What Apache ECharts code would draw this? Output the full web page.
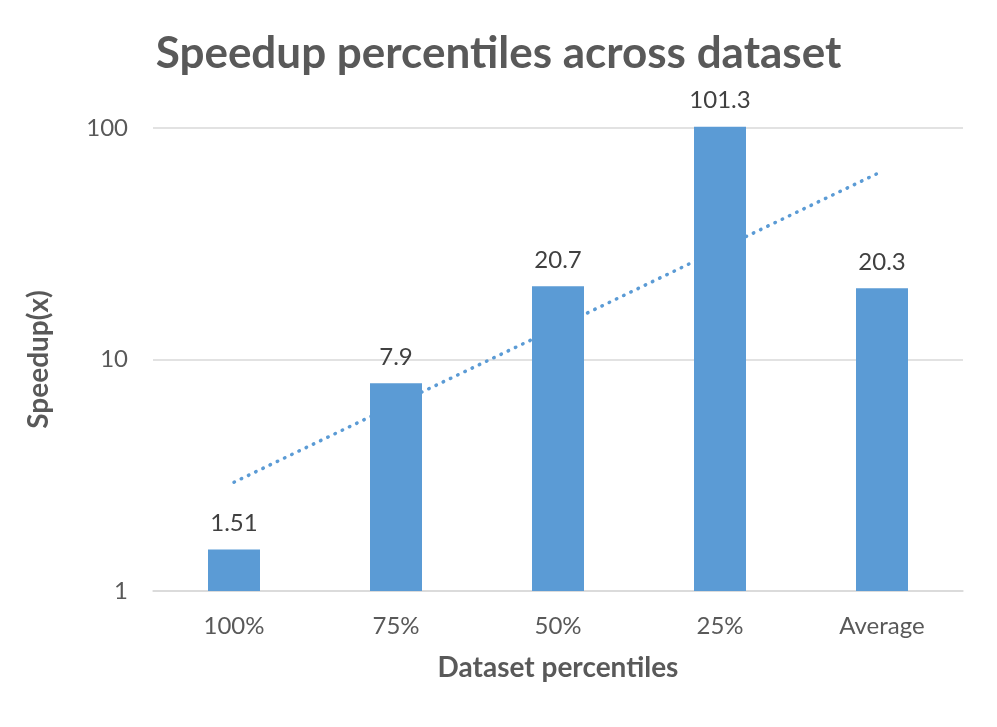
<!DOCTYPE html>
<html>
<head>
<meta charset="utf-8">
<script src="https://cdn.jsdelivr.net/npm/echarts@6/dist/echarts.min.js"></script>
<style>html,body{margin:0;padding:0;background:#fff;}#c{width:997px;height:727px;}</style>
</head>
<body>
<div id="c"></div>
<script>
const categories = ['100%', '75%', '50%', '25%', 'Average'];
const speedups = [1.51, 7.9, 20.7, 101.3, 20.3];
const trendValues = [2.95, 6.4, 13.8, 30, 65];
const yTicks = [1, 10, 100];

const FONT = 'Lato';
const chart = echarts.init(document.getElementById('c'), null, {renderer: 'canvas'});
chart.setOption({
  backgroundColor: '#ffffff',
  animation: false,
  title: {
    text: 'Speedup percentiles across dataset',
    left: 'center',
    top: 27,
    textStyle: {fontFamily: FONT, fontWeight: 'bold', fontSize: 44, color: '#595959'}
  },
  grid: {left: 153, right: 34, top: 128, bottom: 136},
  xAxis: {
    type: 'category',
    data: categories,
    name: 'Dataset percentiles',
    nameLocation: 'middle',
    nameGap: 63,
    nameTextStyle: {fontFamily: FONT, fontWeight: 'bold', fontSize: 28, color: '#595959'},
    axisLine: {lineStyle: {color: '#d9d9d9', width: 1.5}},
    axisTick: {show: false},
    axisLabel: {fontFamily: FONT, fontSize: 24, color: '#595959', margin: 23}
  },
  yAxis: {
    type: 'log',
    logBase: 10,
    min: yTicks[0],
    max: yTicks[yTicks.length - 1],
    name: 'Speedup(x)',
    nameLocation: 'middle',
    nameGap: 100,
    nameRotate: 90,
    nameTextStyle: {fontFamily: FONT, fontWeight: 'bold', fontSize: 28, color: '#595959'},
    axisLine: {show: false},
    axisTick: {show: false},
    axisLabel: {fontFamily: FONT, fontSize: 24, color: '#595959', margin: 25},
    splitLine: {lineStyle: {color: '#d9d9d9', width: 1.5}}
  },
  series: [
    {
      type: 'line',
      data: trendValues,
      z: 1,
      symbol: 'none',
      lineStyle: {color: '#5B9BD5', width: 3.5, type: [0.5, 7.5], cap: 'round'}
    },
    {
      type: 'bar',
      data: speedups,
      z: 2,
      barWidth: 52,
      clip: false,
      itemStyle: {color: '#5B9BD5'},
      label: {show: true, position: 'top', distance: 14, fontFamily: FONT, fontSize: 24, color: '#404040'}
    }
  ]
});
</script>
</body>
</html>
